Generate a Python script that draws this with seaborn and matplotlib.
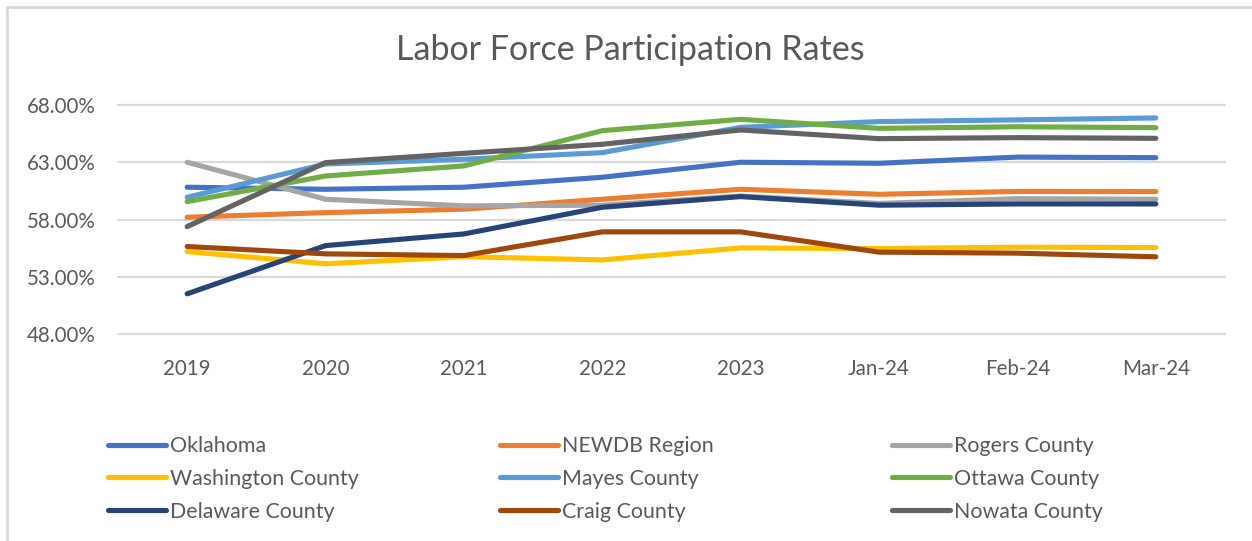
import matplotlib
matplotlib.use("Agg")
import matplotlib.pyplot as plt
import seaborn as sns
import pandas as pd
from matplotlib.lines import Line2D

periods = ["2019", "2020", "2021", "2022", "2023", "Jan-24", "Feb-24", "Mar-24"]

oklahoma = [60.82, 60.64, 60.82, 61.69, 63.00, 62.91, 63.45, 63.40]
newdb = [58.20, 58.60, 58.90, 59.77, 60.64, 60.20, 60.45, 60.44]
rogers = [63.00, 59.77, 59.19, 59.25, 60.05, 59.40, 59.82, 59.77]
washington = [55.20, 54.13, 54.75, 54.47, 55.52, 55.46, 55.58, 55.55]
mayes = [59.94, 62.85, 63.26, 63.84, 66.05, 66.55, 66.70, 66.87]
ottawa = [59.56, 61.80, 62.68, 65.76, 66.75, 65.96, 66.10, 66.02]
delaware = [51.51, 55.72, 56.74, 59.07, 60.00, 59.25, 59.36, 59.36]
craig = [55.64, 55.00, 54.85, 56.92, 56.92, 55.15, 55.06, 54.74]
nowata = [57.38, 62.97, 63.78, 64.57, 65.82, 65.06, 65.15, 65.09]

series_names = ["Oklahoma", "NEWDB Region", "Rogers County", "Washington County",
                "Mayes County", "Ottawa County", "Delaware County", "Craig County",
                "Nowata County"]
series_values = [oklahoma, newdb, rogers, washington, mayes, ottawa, delaware, craig, nowata]
colors = ["#4472C4", "#ED7D31", "#A5A5A5", "#FFC000", "#5B9BD5", "#70AD47",
          "#264478", "#9E480E", "#636363"]

y_ticks = [48, 53, 58, 63, 68]

rows = []
for name, vals in zip(series_names, series_values):
    for p, v in zip(periods, vals):
        rows.append({"period": p, "rate": v, "series": name})
df = pd.DataFrame(rows)
df["period"] = pd.Categorical(df["period"], categories=periods, ordered=True)

sns.set_theme(style="white")
plt.rcParams["font.family"] = ["Lato", "DejaVu Sans"]
text_color = "#595959"
grid_color = "#D9D9D9"
lw = 3.7

W, H = 1252, 541
fig = plt.figure(figsize=(W / 100, H / 100), dpi=100)
fig.patch.set_facecolor("white")
ax = fig.add_axes([118 / W, 1 - 334 / H, (1225 - 118) / W, (334 - 105) / H])

palette = dict(zip(series_names, colors))
sns.lineplot(data=df, x="period", y="rate", hue="series", hue_order=series_names,
             palette=palette, sort=False, linewidth=lw, legend=False, ax=ax,
             solid_capstyle="round", errorbar=None)

ax.set_xlim(-0.5, len(periods) - 0.5)
ax.set_ylim(48, 68)
ax.set_yticks(y_ticks)
ax.set_yticklabels([f"{v:.2f}%" for v in y_ticks])
ax.set_xticks(range(len(periods)))
ax.set_xticklabels(periods)
ax.set_xlabel("")
ax.set_ylabel("")
for s in ax.spines.values():
    s.set_visible(False)
ax.yaxis.grid(True, color=grid_color, linewidth=1.6)
ax.xaxis.grid(False)
ax.set_axisbelow(True)
for gl in ax.get_ygridlines():
    gl.set_clip_on(False)
ax.tick_params(axis="both", length=0, labelsize=14.8, labelcolor=text_color)
ax.tick_params(axis="y", pad=16)
ax.tick_params(axis="x", pad=18)

fig.text(630 / W, 1 - 50 / H, "Labor Force Participation Rates", ha="center",
         va="center", fontsize=24.5, color=text_color)

# chart frame (left and top edges)
fig.add_artist(Line2D([7 / W, 7 / W], [0, 1 - 7 / H], transform=fig.transFigure,
                      color=grid_color, linewidth=2))
fig.add_artist(Line2D([7 / W, 1], [1 - 7 / H, 1 - 7 / H], transform=fig.transFigure,
                      color=grid_color, linewidth=2))

lines = ax.get_lines()[:len(series_names)]
col_x = [108, 500, 892]
for c in range(3):
    idx = [c, c + 3, c + 6]
    leg = fig.legend([lines[i] for i in idx], [series_names[i] for i in idx],
                     loc="upper left", bbox_to_anchor=(col_x[c] / W, 1 - 436 / H),
                     frameon=False, fontsize=15.4, handlelength=2.7, handletextpad=0.2,
                     labelspacing=0.6, borderpad=0, borderaxespad=0)
    for t in leg.get_texts():
        t.set_color(text_color)
    for h in leg.legend_handles:
        h.set_solid_capstyle("round")
        h.set_linewidth(lw)

fig.savefig("out.png", dpi=100, facecolor="white")
